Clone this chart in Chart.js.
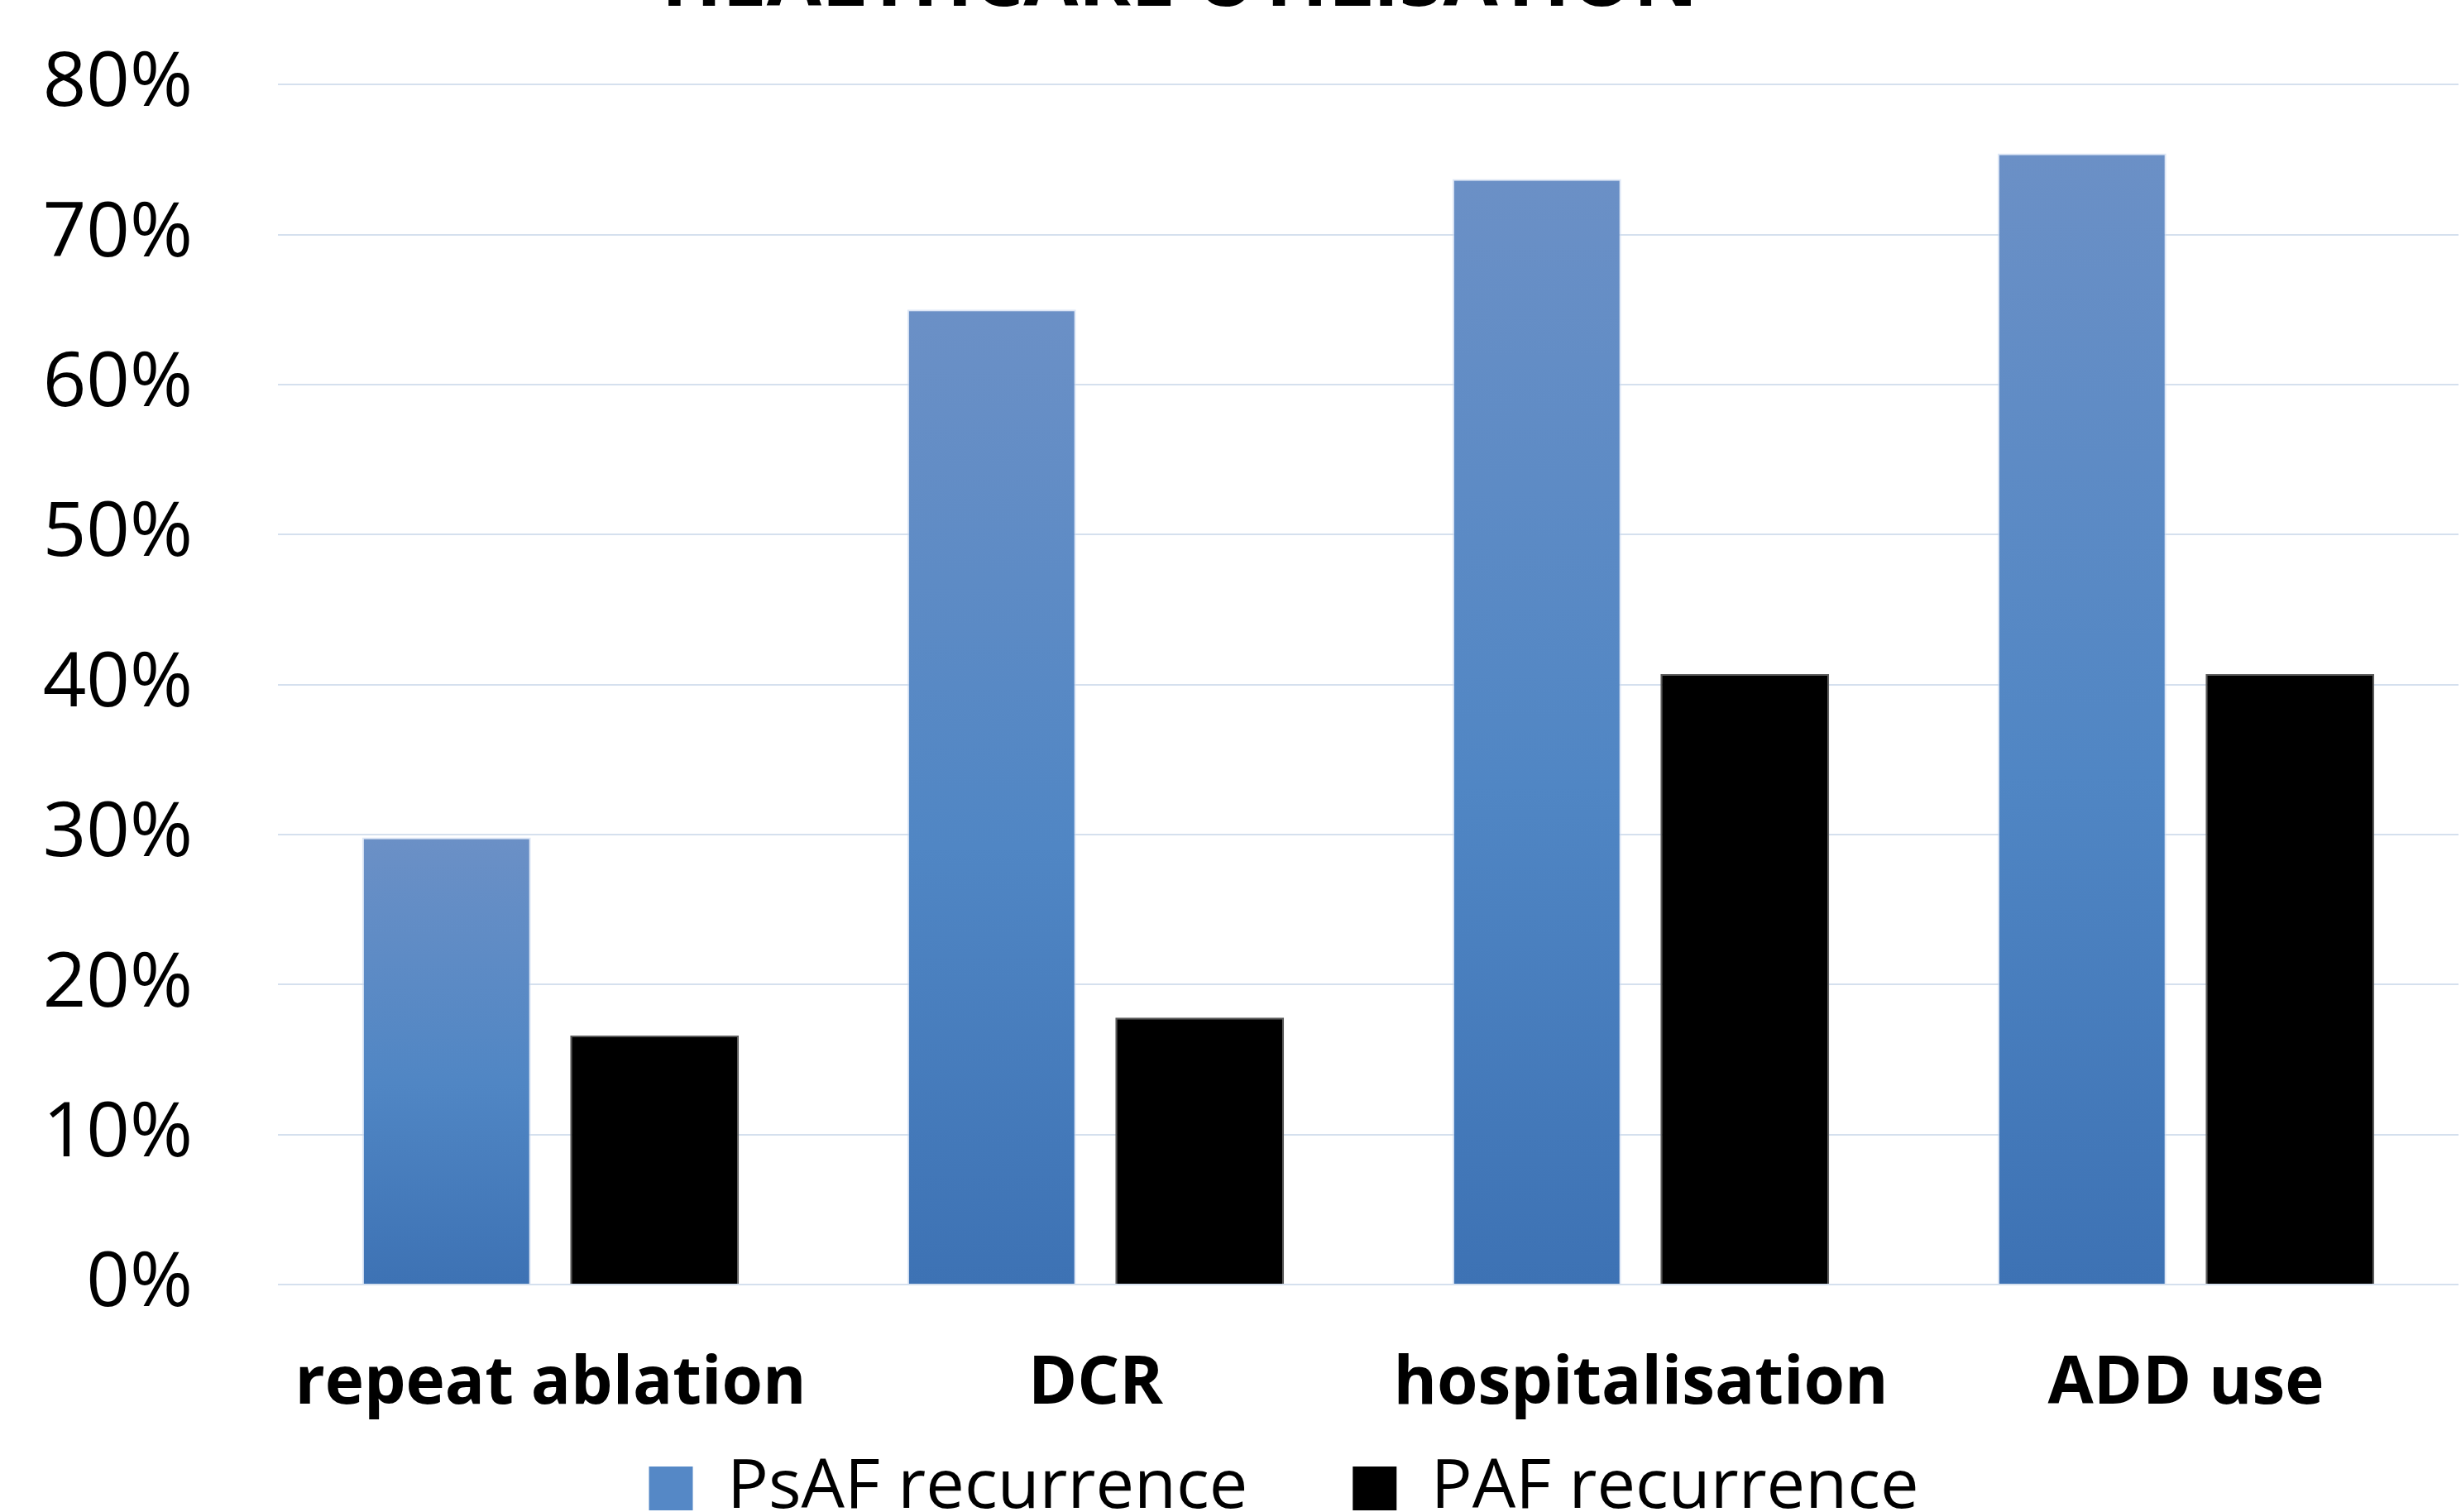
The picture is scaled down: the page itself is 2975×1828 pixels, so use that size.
<!DOCTYPE html>
<html>
<head>
<meta charset="utf-8">
<script src="https://cdn.jsdelivr.net/npm/chart.js@4/dist/chart.umd.min.js"></script>
<style>
  html, body { margin: 0; padding: 0; background: #fff; overflow: hidden; }
  #frame { position: relative; width: 2975px; height: 1828px; overflow: hidden; background: #fff; }
  /* canvas is taller than the frame: title and legend get clipped like in the original */
  #wrap { position: absolute; left: 0; top: -78px; width: 2975px; height: 2021px; }
</style>
</head>
<body>
<div id="frame"><div id="wrap"><canvas id="chart"></canvas></div></div>
<script>
// data
const categories = ['repeat ablation', 'DCR', 'hospitalisation', 'ADD use'];
const psafValues = [29.8, 65.0, 73.7, 75.4];   // PsAF recurrence (%)
const pafValues  = [16.6, 17.8, 40.7, 40.7];   // PAF recurrence (%)
const yTickValues = [0, 10, 20, 30, 40, 50, 60, 70, 80];
const seriesNames = ['PsAF recurrence', 'PAF recurrence'];
const chartTitle = 'HEALTHCARE UTILISATION';

Chart.defaults.font.family = "'Open Sans', 'Noto Sans', sans-serif";
Chart.defaults.color = '#000';

// vertical blue gradient, one per bar (light on top, darker at the base)
function blueBar(ctx) {
  const chart = ctx.chart;
  const area = chart.chartArea;
  if (!area || ctx.raw === undefined) return '#5086C4';
  const y = chart.scales.y;
  const top = y.getPixelForValue(ctx.raw);
  const base = y.getPixelForValue(0);
  const g = chart.ctx.createLinearGradient(0, top, 0, base);
  g.addColorStop(0, '#6B90C6');
  g.addColorStop(0.55, '#5086C4');
  g.addColorStop(1, '#3D72B4');
  return g;
}

// title / legend in the original are not centred on the canvas,
// and the legend sits closer to the axis labels than its padding allows
const nudgeBoxes = {
  id: 'nudgeBoxes',
  afterLayout(chart) {
    const t = chart.titleBlock, l = chart.legend;
    if (t) { t.left -= 60; t.right -= 60; }
    if (l) { l.left += 66; l.right += 66; l.top -= 92; l.bottom -= 92; }
  }
};

new Chart(document.getElementById('chart'), {
  type: 'bar',
  data: {
    labels: categories,
    datasets: [
      {
        label: seriesNames[0],
        data: psafValues,
        backgroundColor: blueBar,
        borderColor: 'rgba(200,215,240,0.6)',
        borderWidth: 2,
        categoryPercentage: 0.763,
        barPercentage: 0.811
      },
      {
        label: seriesNames[1],
        data: pafValues,
        backgroundColor: '#000',
        borderColor: '#5a5a5a',
        borderWidth: 2,
        categoryPercentage: 0.763,
        barPercentage: 0.811
      }
    ]
  },
  plugins: [nudgeBoxes],
  options: {
    responsive: true,
    maintainAspectRatio: false,
    devicePixelRatio: 1,
    animation: false,
    layout: { padding: { left: 0, right: 3, top: 0, bottom: 0 } },
    plugins: {
      title: {
        display: true,
        text: chartTitle,
        font: { size: 96, weight: 'bold' },
        color: '#000',
        padding: { top: 0, bottom: 65 }
      },
      legend: {
        position: 'bottom',
        labels: {
          font: { size: 83 },
          color: '#000',
          boxWidth: 53,
          boxHeight: 53,
          padding: 127,
          generateLabels: chart => chart.data.datasets.map((ds, i) => ({
            text: ds.label,
            fillStyle: i === 0 ? '#5588C6' : '#000',
            strokeStyle: i === 0 ? '#5588C6' : '#000',
            lineWidth: 0,
            datasetIndex: i
          }))
        }
      },
      tooltip: { enabled: false }
    },
    scales: {
      x: {
        grid: { display: false, drawTicks: false },
        border: { display: false },
        ticks: {
          font: { size: 80, weight: 'bold' },
          color: '#000',
          padding: 73,
          maxRotation: 0,
          autoSkip: false
        },
        afterFit: s => { s.height = 170; }
      },
      y: {
        min: 0,
        max: 80,
        grid: { color: '#D5E0EE', lineWidth: 2, drawTicks: false },
        border: { display: false },
        afterBuildTicks: s => { s.ticks = yTickValues.map(v => ({ value: v })); },
        ticks: {
          font: { size: 92 },
          color: '#000',
          padding: 103,
          callback: v => v + '%'
        },
        afterFit: s => { s.width = 336; }
      }
    }
  }
});
</script>
</body>
</html>
